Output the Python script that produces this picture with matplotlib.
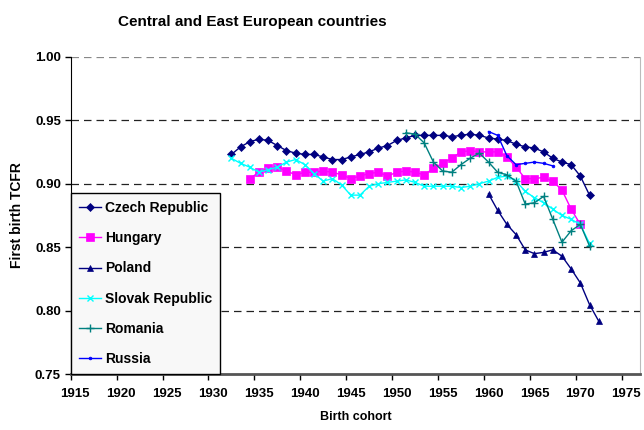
import matplotlib
matplotlib.use("Agg")
import matplotlib.pyplot as plt
import numpy as np

plt.rcParams['font.family'] = ['Liberation Sans', 'DejaVu Sans']

czech_years = list(range(1932, 1972))
czech = [0.923, 0.929, 0.933, 0.935, 0.934, 0.930, 0.926, 0.924, 0.923, 0.923,
         0.921, 0.919, 0.919, 0.921, 0.923, 0.925, 0.928, 0.930, 0.934, 0.936,
         0.938, 0.938, 0.938, 0.938, 0.937, 0.938, 0.939, 0.938, 0.936, 0.935,
         0.934, 0.931, 0.929, 0.928, 0.925, 0.920, 0.917, 0.915, 0.906, 0.891]

hungary_years = list(range(1934, 1971))
hungary = [0.904, 0.909, 0.912, 0.913, 0.910, 0.907, 0.909, 0.909, 0.910, 0.909,
           0.907, 0.904, 0.906, 0.908, 0.909, 0.906, 0.909, 0.910, 0.909, 0.907,
           0.912, 0.916, 0.920, 0.925, 0.926, 0.925, 0.925, 0.925, 0.921, 0.913,
           0.904, 0.904, 0.905, 0.902, 0.895, 0.880, 0.868]

poland_years = list(range(1960, 1973))
poland = [0.892, 0.879, 0.868, 0.860, 0.848, 0.845, 0.846, 0.848, 0.843, 0.833,
          0.822, 0.805, 0.792]

slovak_years = list(range(1932, 1972))
slovak = [0.920, 0.916, 0.913, 0.909, 0.911, 0.913, 0.917, 0.919, 0.915, 0.908,
          0.902, 0.904, 0.899, 0.891, 0.891, 0.898, 0.900, 0.901, 0.902, 0.903,
          0.901, 0.898, 0.898, 0.898, 0.898, 0.897, 0.898, 0.900, 0.902, 0.905,
          0.906, 0.902, 0.894, 0.889, 0.885, 0.880, 0.875, 0.872, 0.868, 0.853]

romania_years = list(range(1951, 1972))
romania = [0.940, 0.939, 0.932, 0.917, 0.910, 0.909, 0.915, 0.920, 0.924, 0.917,
           0.909, 0.907, 0.902, 0.884, 0.885, 0.890, 0.872, 0.854, 0.863, 0.868,
           0.851]

russia_years = list(range(1960, 1968))
russia = [0.941, 0.938, 0.922, 0.915, 0.916, 0.917, 0.916, 0.914]

xtick_labels = [str(y) for y in range(1915, 1980, 5)]

fig = plt.figure(figsize=(6.44, 4.30), dpi=100)
ax = fig.add_axes([0.1098, 0.1291, 0.8840, 0.7395])

series = [
    ("Czech Republic", czech_years, czech, "#000080", "D", 4.5),
    ("Hungary", hungary_years, hungary, "#FF00FF", "s", 5.5),
    ("Poland", poland_years, poland, "#000080", "^", 5),
    ("Slovak Republic", slovak_years, slovak, "#00FFFF", "x", 5),
    ("Romania", romania_years, romania, "#008080", "+", 6),
    ("Russia", russia_years, russia, "#0000FF", "o", 2),
]
for name, xs, ys, col, mk, ms in series:
    ax.plot(xs, ys, color=col, marker=mk, markersize=ms, linewidth=1.0,
            markeredgewidth=1.0 if mk in "x+" else 0.5, label=name)

ax.set_xlim(1914.5, 1976.5)
ax.set_ylim(0.75, 1.00)
ax.set_yticks(np.arange(0.75, 1.001, 0.05))
ax.set_yticklabels([f"{v:.2f}" for v in np.arange(0.75, 1.001, 0.05)],
                   fontsize=9.5, fontweight='bold')
ax.set_xticks(range(1915, 1980, 5))
ax.set_xticklabels(xtick_labels, fontsize=9.5, fontweight='bold')
ax.set_xticks(np.arange(1914.5, 1977, 5), minor=True)
ax.tick_params(axis='x', which='major', length=0, pad=10)
ax.tick_params(axis='x', which='minor', length=4, width=1, direction='out')
ax.tick_params(axis='y', length=4, width=1, direction='out', pad=3)

for v in [0.80, 0.85, 0.90, 0.95]:
    ax.axhline(v, color='#222222', linestyle=(0, (6, 4)), linewidth=0.9, zorder=0)
ax.axhline(1.00, color='#888888', linestyle=(0, (6, 4)), linewidth=0.9, zorder=0)

ax.spines['top'].set_visible(False)
ax.spines['right'].set_color('#bbbbbb')
ax.spines['left'].set_color('black')
ax.spines['bottom'].set_color('#555555')
ax.spines['bottom'].set_linewidth(2)

ax.set_xlabel("Birth cohort", fontsize=9, fontweight='bold', labelpad=8)
ax.set_ylabel("First birth TCFR", fontsize=10, fontweight='bold', labelpad=8)
fig.text(0.183, 0.94, "Central and East European countries", fontsize=11,
         fontweight='bold', ha='left', va='baseline')

leg = ax.legend(loc='lower left', bbox_to_anchor=(0.0, 0.0),
                prop={'weight': 'bold', 'size': 10}, frameon=True, fancybox=False,
                edgecolor='black', facecolor='#f8f8f8', framealpha=1,
                borderaxespad=0, labelspacing=1.17, handlelength=1.6,
                handletextpad=0.25, borderpad=0.6)
leg.get_frame().set_linewidth(1.0)

fig.savefig("out.png", dpi=100)
